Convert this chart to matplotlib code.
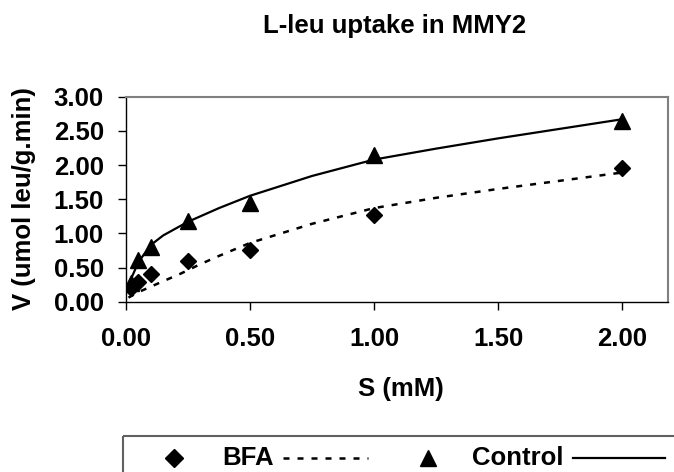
import matplotlib
matplotlib.use("Agg")
import matplotlib.pyplot as plt
from matplotlib.lines import Line2D
from matplotlib.patches import Rectangle

plt.rcParams['font.family'] = ['Liberation Sans', 'DejaVu Sans']
plt.rcParams['font.weight'] = 'bold'

# measured points
s_mM = [0.02, 0.05, 0.1, 0.25, 0.5, 1.0, 2.0]
v_bfa = [0.20, 0.29, 0.41, 0.59, 0.76, 1.27, 1.96]
v_control = [0.27, 0.61, 0.80, 1.18, 1.45, 2.15, 2.64]

# trend lines
trend_s_control = [0.005, 0.02, 0.05, 0.1, 0.15, 0.25, 0.375, 0.5, 0.75, 1.0, 1.25, 1.5, 1.75, 2.0]
trend_v_control = [0.17, 0.33, 0.58, 0.83, 0.97, 1.17, 1.37, 1.55, 1.84, 2.08, 2.24, 2.39, 2.53, 2.67]
trend_s_bfa = [0.01, 0.05, 0.1, 0.15, 0.22, 0.3, 0.375, 0.5, 0.75, 1.0, 1.25, 1.5, 1.75, 2.0]
trend_v_bfa = [0.06, 0.14, 0.22, 0.30, 0.41, 0.55, 0.67, 0.86, 1.14, 1.37, 1.52, 1.65, 1.77, 1.89]

x_ticks = [0.0, 0.5, 1.0, 1.5, 2.0]
y_ticks = [0.0, 0.5, 1.0, 1.5, 2.0, 2.5, 3.0]

W, H = 674, 472
FS = 18.5
DASH = (0, (2.4, 3.2))
fig = plt.figure(figsize=(W / 100, H / 100), dpi=100)

def px(x0, y0, x1, y1):
    # pixel box -> figure fraction
    return [x0 / W, 1 - y1 / H, (x1 - x0) / W, (y1 - y0) / H]

ax = fig.add_axes(px(126, 96.7, 668, 301.7))

ax.plot(trend_s_bfa, trend_v_bfa, color='black', lw=1.8, ls=DASH)
ax.plot(trend_s_control, trend_v_control, color='black', lw=1.6)
ax.plot(s_mM, v_bfa, ls='none', marker='D', ms=8.5, color='black')
ax.plot(s_mM, v_control, ls='none', marker='^', ms=12, color='black')

ax.set_xlim(0, 2.185)
ax.set_ylim(0, 3.0)
ax.set_xticks(x_ticks)
ax.set_yticks(y_ticks)
ax.set_xticklabels(['%.2f' % t for t in x_ticks])
ax.set_yticklabels(['%.2f' % t for t in y_ticks])
ax.tick_params(axis='both', direction='out', length=6, width=1, labelsize=FS, color='black')
ax.tick_params(axis='x', pad=12)
ax.tick_params(axis='y', pad=10)

for side in ['left', 'bottom']:
    ax.spines[side].set_color('black')
    ax.spines[side].set_linewidth(1)
for side in ['top', 'right']:
    ax.spines[side].set_color('#808080')
    ax.spines[side].set_linewidth(1.5)

fig.text(394.5 / W, 1 - 33 / H, 'L-leu uptake in MMY2', ha='center', va='baseline',
         fontsize=FS, fontweight='bold')
fig.text(401 / W, 1 - 389 / H, 'S (mM)', ha='center', va='center', fontsize=FS, fontweight='bold')
fig.text(24.5 / W, 1 - 199 / H, 'V (umol leu/g.min)', ha='center', va='center', rotation=90,
         fontsize=FS, fontweight='bold')

# legend drawn by hand (Excel style: marker, name, trendline sample)
lax = fig.add_axes([0, 0, 1, 1], zorder=5)
lax.set_xlim(0, W)
lax.set_ylim(H, 0)
lax.axis('off')
lax.add_patch(Rectangle((123.3, 435.7), 600, 100, fill=False, ec='#606060', lw=1.5))
ly = 458
lax.add_line(Line2D([174], [ly], ls='none', marker='D', ms=9, color='black'))
lax.text(222, ly, 'BFA', ha='left', va='center', fontsize=FS, fontweight='bold')
lax.add_line(Line2D([283, 368], [ly, ly], color='black', lw=1.8, ls=DASH))
lax.add_line(Line2D([428], [ly], ls='none', marker='^', ms=11, color='black'))
lax.text(472, ly, 'Control', ha='left', va='center', fontsize=FS, fontweight='bold')
lax.add_line(Line2D([573, 665], [ly, ly], color='black', lw=1.6))

fig.savefig('out.png', dpi=100)
